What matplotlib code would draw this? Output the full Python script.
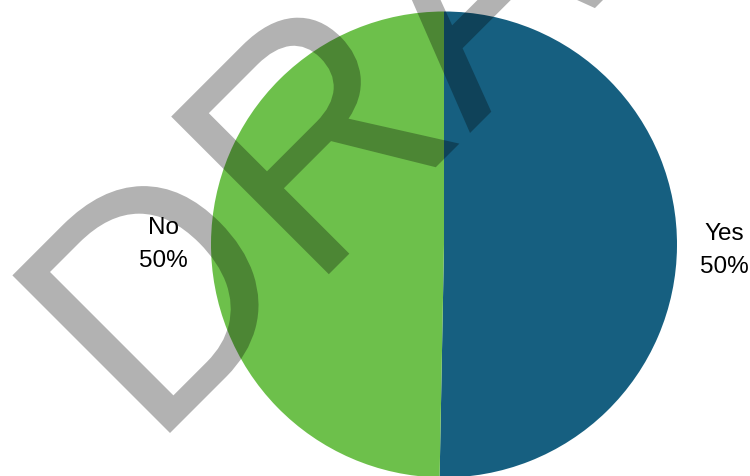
import matplotlib
matplotlib.use("Agg")
import matplotlib.pyplot as plt
from matplotlib.textpath import TextPath
from matplotlib.font_manager import FontProperties
from matplotlib.patches import PathPatch
from matplotlib.path import Path
from matplotlib.transforms import Affine2D, IdentityTransform

plt.rcParams['font.family'] = ['Liberation Sans', 'DejaVu Sans']

categories = ["Yes", "No"]
values = [50.3, 49.7]
pct_labels = ["50%", "50%"]
colors = ["#165F80", "#6DC04B"]
watermark = "DRAFT"

W, H = 750, 477
CX, CY, R = 444, H - 245.5, 233
fig = plt.figure(figsize=(W / 100, H / 100), dpi=100)
ax = fig.add_axes([0, 0, 1, 1])

labels = [f"{c}\n{p}" for c, p in zip(categories, pct_labels)]
wedges, texts = ax.pie(values, colors=colors, startangle=90, counterclock=False,
                       radius=R, center=(CX, CY), labels=labels,
                       labeldistance=1.1, textprops=dict(fontsize=17.5, color="black"),
                       wedgeprops=dict(linewidth=0))
label_nudge = [-3, -1]
for t, dy in zip(texts, label_nudge):
    t.set_multialignment("center")
    t.set_linespacing(1.65)
    x, y = t.get_position()
    t.set_position((x, y + dy))
    t.set_horizontalalignment("left" if x > CX else "right")
ax.set_xlim(0, W)
ax.set_ylim(0, H)
ax.set_aspect("equal")
ax.axis("off")

# watermark as a path so its letter height and width can be matched
tp = TextPath((0, 0), watermark, size=1, prop=FontProperties(family="Liberation Sans"))
real = tp.codes != Path.CLOSEPOLY if tp.codes is not None else slice(None)
xmin = tp.vertices[real, 0].min()
tr = (Affine2D().translate(-xmin, 0).scale(311, 324).rotate_deg(45)
      .translate(170, H - 434))
wm = PathPatch(tr.transform_path(tp), facecolor="black", edgecolor="none",
               alpha=0.3, transform=IdentityTransform(), zorder=10)
fig.add_artist(wm)

fig.savefig("out.png", dpi=100)
